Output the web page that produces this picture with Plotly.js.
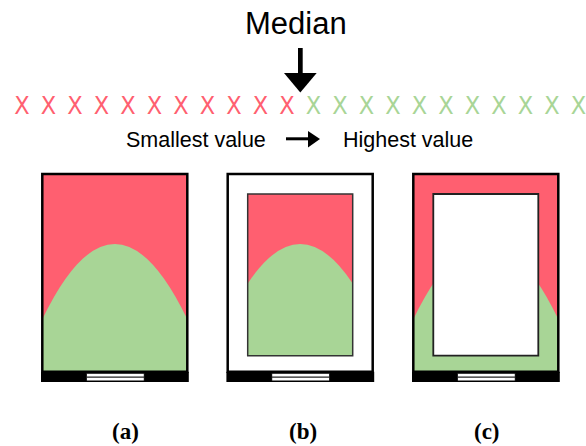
<!DOCTYPE html>
<html>
<head>
<meta charset="utf-8">
<script src="https://cdn.plot.ly/plotly-3.0.1.min.js"></script>
<style>html,body{margin:0;padding:0;background:#fff;}#chart{width:586px;height:446px;}</style>
</head>
<body>
<div id="chart"></div>
<script>
// ---- data ----
const sampleRanks = [1,2,3,4,5,6,7,8,9,10,11,12,13,14,15,16,17,18,19,20,21,22];
const sampleGlyph = 'X';
const medianRank = 11.5;
const headerTexts = ['Median', 'Smallest value', 'Highest value'];
const panelLabels = ['(a)', '(b)', '(c)'];
const panelModes = ['full', 'center', 'border'];
// green (above-median) region: height fraction at sensor edges, height fraction at centre
const greenLevels = [0.265, 0.646];

// ---- styles ----
const RED = '#FF5F70';
const GREEN = '#A8D596';

const shapes = [];
const annotations = [];

// panel geometry (pixels, axis maps 1:1 to pixels)
const panelLeft = [42.3, 227.7, 413.3];
const panelW = 145, panelTop = 174, panelBottom = 371.7;
const panelH = panelBottom - panelTop;
const inset = {l: 20, r: 20, t: 20, b: 16};

function rect(x0, y0, x1, y1, fill, lineColor, lw) {
  shapes.push({type: 'rect', xref: 'x', yref: 'y', x0, y0, x1, y1,
    fillcolor: fill, line: {color: lineColor || 'rgba(0,0,0,0)', width: lw || 0}});
}
function path(d, fill, lineColor, lw) {
  shapes.push({type: 'path', xref: 'x', yref: 'y', path: d, fillcolor: fill,
    line: {color: lineColor || 'rgba(0,0,0,0)', width: lw || 0}});
}
// parabola segment between xa and xb (symmetric about c), filled down to base
function greenArea(c, halfSpan, halfSeg, base, yEdge, yPeak) {
  const yEnd = yPeak + (yEdge - yPeak) * Math.pow(halfSeg / halfSpan, 2);
  const yCtl = 2 * yPeak - yEnd;
  const xa = c - halfSeg, xb = c + halfSeg;
  return `M ${xa},${base} L ${xa},${yEnd} Q ${c},${yCtl} ${xb},${yEnd} L ${xb},${base} Z`;
}

panelModes.forEach((mode, i) => {
  const L = panelLeft[i], R = L + panelW, T = panelTop, B = panelBottom;
  const c = (L + R) / 2, h = panelW / 2;
  const yEdge = B - greenLevels[0] * panelH;
  const yPeak = B - greenLevels[1] * panelH;
  const iL = L + inset.l, iR = R - inset.r, iT = T + inset.t, iB = B - inset.b;
  if (mode === 'full') {
    rect(L, T, R, B, RED);
    path(greenArea(c, h, h, B, yEdge, yPeak), GREEN);
  } else if (mode === 'center') {
    rect(L, T, R, B, '#ffffff');
    rect(iL, iT, iR, iB, RED);
    path(greenArea(c, h, (iR - iL) / 2, iB, yEdge, yPeak), GREEN);
    rect(iL, iT, iR, iB, 'rgba(0,0,0,0)', '#333', 1.5);
  } else {
    rect(L, T, R, B, RED);
    path(greenArea(c, h, h, B, yEdge, yPeak), GREEN);
    rect(iL, iT, iR, iB, '#ffffff', '#222', 1.8);
  }
  rect(L, T, R, B, 'rgba(0,0,0,0)', '#000', 2.5);
  // connector strip
  rect(L - 1.3, B, R + 1.5, B + 10.3, '#000');
  rect(c - 28.5, B + 1.5, c + 29.5, B + 9.3, '#fff', '#000', 1);
  shapes.push({type: 'line', xref: 'x', yref: 'y', x0: c - 28.5, x1: c + 29.5,
    y0: B + 5.5, y1: B + 5.5, line: {color: '#222', width: 1.2}});
});

// label positions
const labelX = [125, 303, 487];
panelLabels.forEach((t, i) => {
  annotations.push({xref: 'x', yref: 'y', x: labelX[i], y: 431, text: '<b>' + t + '</b>',
    showarrow: false, xanchor: 'center', yanchor: 'middle',
    font: {family: 'Liberation Serif', size: 23, color: '#000'}});
});

// header texts
annotations.push({xref: 'x', yref: 'y', x: 296, y: 23, text: headerTexts[0], showarrow: false,
  xanchor: 'center', yanchor: 'middle', font: {family: 'Liberation Sans', size: 31, color: '#000'}});
annotations.push({xref: 'x', yref: 'y', x: 268, y: 140, text: headerTexts[1], showarrow: false,
  xanchor: 'right', yanchor: 'middle', font: {family: 'Liberation Sans', size: 21.5, color: '#000'}});
annotations.push({xref: 'x', yref: 'y', x: 341, y: 140, text: headerTexts[2], showarrow: false,
  xanchor: 'left', yanchor: 'middle', font: {family: 'Liberation Sans', size: 21.5, color: '#000'}});

// median arrow
rect(298, 48, 302.7, 75, '#000');
path('M 284,73 L 316.7,73 L 300.3,92.5 Z', '#000');
// small arrow
rect(286, 137.3, 309, 140.3, '#000');
path('M 308,131 L 308,147.5 L 320,139 Z', '#000');

const trace = {
  type: 'scatter', mode: 'text', xaxis: 'x2', yaxis: 'y',
  x: sampleRanks.map(r => r - 1),
  y: sampleRanks.map(() => 108),
  text: sampleRanks.map(() => sampleGlyph),
  textposition: 'middle center',
  textfont: {family: 'Liberation Sans Narrow, DejaVu Sans Condensed, Liberation Sans', size: 25,
    color: sampleRanks.map(r => r < medianRank ? RED : GREEN)},
  hoverinfo: 'skip', showlegend: false
};

const layout = {
  width: 586, height: 446,
  margin: {l: 0, r: 0, t: 0, b: 0},
  paper_bgcolor: '#fff', plot_bgcolor: '#fff',
  xaxis: {range: [0, 586], visible: false, fixedrange: true},
  xaxis2: {range: [-22 / 26.5, (586 - 22) / 26.5], overlaying: 'x', visible: false, fixedrange: true},
  yaxis: {range: [446, 0], visible: false, fixedrange: true},
  shapes, annotations, showlegend: false
};

Plotly.newPlot('chart', [trace], layout, {staticPlot: true, displayModeBar: false});
</script>
</body>
</html>
